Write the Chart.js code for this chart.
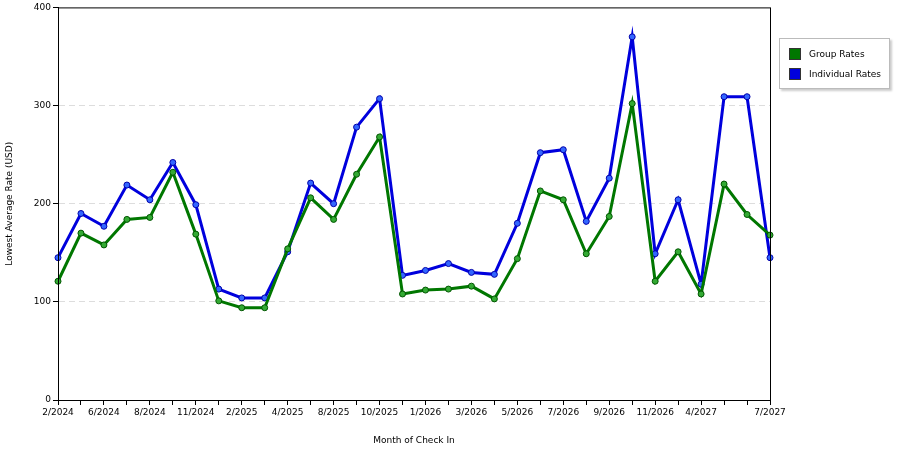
<!DOCTYPE html>
<html><head><meta charset="utf-8">
<script src="https://cdn.jsdelivr.net/npm/chart.js@4/dist/chart.umd.min.js"></script>
<style>
body{margin:0;background:#fff;font-family:"DejaVu Sans",sans-serif;}
#wrap{position:relative;width:900px;height:450px;}
#legend{position:absolute;left:779px;top:38px;width:109px;height:49px;border:1px solid #bbb;background:#fff;font-size:9px;box-shadow:2px 2px 2px #ccc;}
.li{position:absolute;left:9px;display:flex;align-items:center;}
.sw{width:12px;height:12px;margin-right:8px;border:1px solid #333;box-sizing:border-box;}
</style></head><body>
<div id="wrap"><canvas id="c" width="900" height="450"></canvas>
<div id="legend">
<div class="li" style="top:9px"><span class="sw" style="background:#007700"></span>Group Rates</div>
<div class="li" style="top:29px"><span class="sw" style="background:#0000dd"></span>Individual Rates</div>
</div></div>
<script>
const categories=["2/2024","","6/2024","","8/2024","","11/2024","","2/2025","","4/2025","","8/2025","","10/2025","","1/2026","","3/2026","","5/2026","","7/2026","","9/2026","","11/2026","","4/2027","","","7/2027"];
const groupRates=[121,170,158,184,186,232,169,101,94,94,154,206,184,230,268,108,112,113,116,103,144,213,204,149,187,302,121,151,108,220,189,168];
const individualRates=[145,190,177,219,204,242,199,113,104,104,151,221,200,278,307,127,132,139,130,128,180,252,255,182,226,370,149,204,118,309,309,145];
const yTicks=[0,100,200,300,400];
const frame={id:'frame',afterDraw(c){const a=c.chartArea,x=c.ctx;x.save();x.strokeStyle='#000';x.lineWidth=1;x.strokeRect(a.left+0.5,a.top+0.5,a.right-a.left,a.bottom-a.top);x.restore();}};
new Chart(document.getElementById('c'),{
type:'line',
data:{labels:categories,datasets:[
{label:'Group Rates',data:groupRates,borderColor:'#007700',backgroundColor:'#33aa33',pointBorderColor:'#005500',borderWidth:3,pointRadius:3,pointBorderWidth:1,tension:0},
{label:'Individual Rates',data:individualRates,borderColor:'#0000dd',backgroundColor:'#3366ff',pointBorderColor:'#0000aa',borderWidth:3,pointRadius:3,pointBorderWidth:1,tension:0}
]},
options:{responsive:false,animation:false,
layout:{padding:{top:5,right:130,left:0,bottom:0}},
plugins:{legend:{display:false},tooltip:{enabled:false}},
font:{family:'DejaVu Sans'},
scales:{
x:{offset:false,grid:{display:true,drawOnChartArea:false,tickLength:5,color:'#000'},border:{color:'#000'},
ticks:{autoSkip:false,maxRotation:0,color:'#000',font:{family:'DejaVu Sans',size:9},padding:2},
title:{display:true,text:'Month of Check In',color:'#000',font:{family:'DejaVu Sans',size:9},padding:{top:2}},
afterFit(s){s.height=50;}},
y:{min:0,max:400,afterBuildTicks(s){s.ticks=yTicks.map(v=>({value:v}));},
grid:{color(ctx){return (ctx.tick&&(ctx.tick.value===0||ctx.tick.value===400))?'rgba(0,0,0,0)':'#ddd';},tickLength:5,tickColor:'#000',tickBorderDash:[0],},
border:{color:'#000',dash:[6,4]},
ticks:{color:'#000',font:{family:'DejaVu Sans',size:9},padding:2},
title:{display:true,text:'Lowest Average Rate (USD)',color:'#000',font:{family:'DejaVu Sans',size:9}},
afterFit(s){s.width=58;}}
}},
plugins:[frame]
});
</script></body></html>
